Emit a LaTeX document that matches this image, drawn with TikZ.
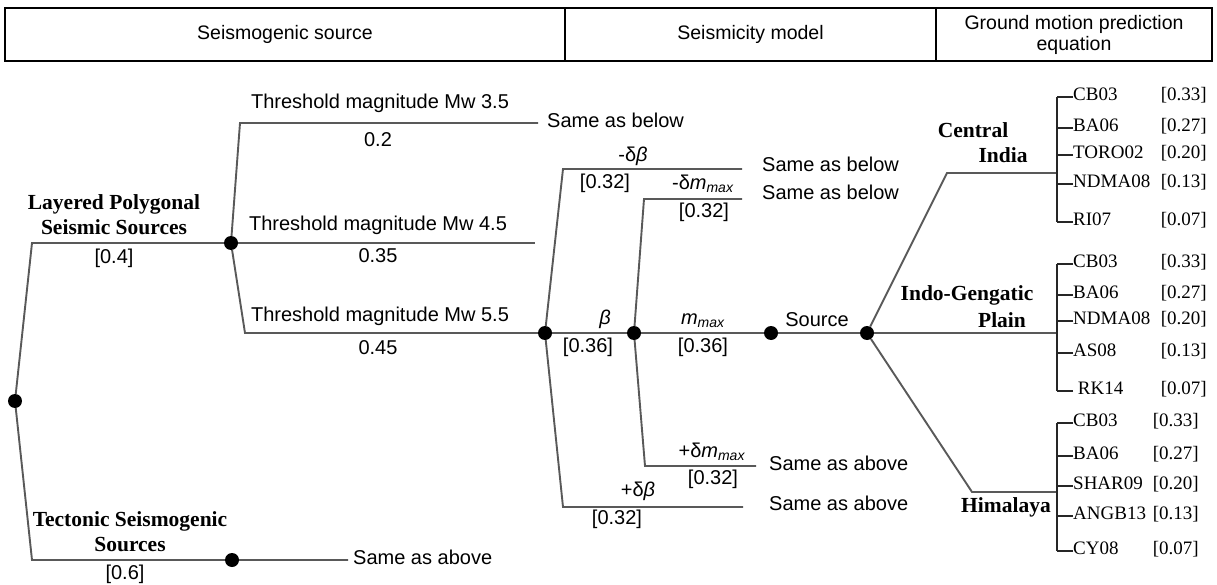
\documentclass[tikz,border=0pt]{standalone}
\usepackage{fontspec}
\setmainfont{Liberation Sans}
\newfontfamily\tnr{Liberation Serif}
\begin{document}
\begin{tikzpicture}[x=1pt, y=-1pt,
  branch/.style={draw=black!65, line width=1.9pt},
  bracket/.style={draw=black!85, line width=1.5pt},
  dot/.style={circle, fill=black, inner sep=0pt, minimum size=14pt},
  head/.style={draw, line width=1.2pt, minimum height=53pt, inner sep=0pt, font=\fontsize{19.5}{21}\selectfont},
  txt/.style={inner sep=0pt, text height=0.72em, text depth=0pt, font=\fontsize{20}{24}\selectfont},
  same/.style={txt, anchor=west},
  region/.style={inner sep=0pt, align=center, font=\fontsize{21.5}{25}\selectfont\tnr\bfseries},
  gm/.style={anchor=west, inner sep=0pt, text height=0.66em, text depth=0pt, font=\fontsize{19}{22}\selectfont\tnr},
  gmw/.style={gm, anchor=east}
]
\useasboundingbox (0,0) rectangle (1217,585);

% column headings
\node[head, minimum width=560pt] (hsrc) at (285,34.5) {Seismogenic source};
\node[head, minimum width=371pt] (hmod) at (750.5,34.5) {Seismicity model};
\node[head, minimum width=276pt, align=center] (hgmpe) at (1074,34.5) {Ground motion prediction\\equation};

% seismogenic source
\node[dot] (root) at (15,401) {};
\node[dot] (lps) at (231,243) {};
\node[dot] (tss) at (232,560) {};
\coordinate (lpsc) at (32,243);
\coordinate (tssc) at (32,560);
\coordinate (tsse) at (348,560);
\draw[branch] (root) -- (lpsc) -- (lps);
\draw[branch] (root) -- (tssc) -- (tss) -- (tsse);
\node[region] (lpstxt) at (114,215) {Layered Polygonal\\Seismic Sources};
\node[txt] (lpsw) at (114,260) {[0.4]};
\node[region] (tsstxt) at (130,532) {Tectonic Seismogenic\\Sources};
\node[txt] (tssw) at (125,576) {[0.6]};
\node[same] (tsssame) at (353,561) {Same as above};

% threshold magnitudes
\coordinate (m35c) at (240,123);
\coordinate (m35e) at (538,123);
\coordinate (m45e) at (535,243);
\coordinate (m55c) at (245,333);
\node[dot] (mdl) at (545,333) {};
\draw[branch] (lps) -- (m35c) -- (m35e);
\draw[branch] (lps) -- (m45e);
\draw[branch] (lps) -- (m55c) -- (mdl);
\node[txt] (m35) at (380,105) {Threshold magnitude Mw 3.5};
\node[txt] (m35w) at (378,143) {0.2};
\node[same] (m35same) at (547,124) {Same as below};
\node[txt] (m45) at (378,227) {Threshold magnitude Mw 4.5};
\node[txt] (m45w) at (378,259) {0.35};
\node[txt] (m55) at (380,318) {Threshold magnitude Mw 5.5};
\node[txt] (m55w) at (378,351) {0.45};

% seismicity model: b-value and mmax
\node[dot] (beta) at (634,333) {};
\node[dot] (mmax) at (771,333) {};
\node[dot] (src) at (867,333) {};
\coordinate (bmc) at (563,169);
\coordinate (bme) at (742,169);
\coordinate (bpc) at (563,507);
\coordinate (bpe) at (743,507);
\coordinate (mmc) at (644,199);
\coordinate (mme) at (742,199);
\coordinate (mpc) at (645,466);
\coordinate (mpe) at (756,466);
\draw[branch] (mdl) -- (bmc) -- (bme);
\draw[branch] (mdl) -- (bpc) -- (bpe);
\draw[branch] (mdl) -- (beta) -- (mmax) -- (src);
\draw[branch] (beta) -- (mmc) -- (mme);
\draw[branch] (beta) -- (mpc) -- (mpe);
\node[txt] (bm) at (633,158) {-δ\textit{β}};
\node[txt] (bmw) at (605,185) {[0.32]};
\node[same] (bmsame) at (762,168) {Same as below};
\node[txt] (mm) at (703,186) {-δ\textit{m}\textsubscript{\textit{max}}};
\node[txt] (mmw) at (704,214) {[0.32]};
\node[same] (mmsame) at (762,196) {Same as below};
\node[txt] (b0) at (605,321) {\textit{β}};
\node[txt] (b0w) at (588,349) {[0.36]};
\node[txt] (m0) at (703,321) {\textit{m}\textsubscript{\textit{max}}};
\node[txt] (m0w) at (703,349) {[0.36]};
\node[txt] (mp) at (712,454) {+δ\textit{m}\textsubscript{\textit{max}}};
\node[txt] (mpw) at (713,481) {[0.32]};
\node[same] (mpsame) at (769,467) {Same as above};
\node[txt] (bp) at (638,493) {+δ\textit{β}};
\node[txt] (bpw) at (617,521) {[0.32]};
\node[same] (bpsame) at (769,507) {Same as above};
\node[txt] (srctxt) at (817,323) {Source};

% ground motion prediction equations
\coordinate (cic) at (947,173);
\coordinate (cib) at (1057,173);
\coordinate (igb) at (1057,333);
\coordinate (hic) at (972,492);
\coordinate (hib) at (1057,492);
\draw[branch] (src) -- (cic) -- (cib);
\draw[branch] (src) -- (igb);
\draw[branch] (src) -- (hic) -- (hib);
\node[region] (ci1) at (973,130) {Central};
\node[region] (ci2) at (1003,155) {India};
\node[region] (ig1) at (967,295) {Indo-Gengatic};
\node[region] (ig2) at (1002,320) {Plain};
\node[region] (hi) at (1006,507) {Himalaya};

\foreach \y/\g/\w [count=\i] in {97/CB03/0.33, 128/BA06/0.27, 155/TORO02/0.20, 184/NDMA08/0.13, 222/RI07/0.07} {
  \node[gm] (cig\i) at (1073,\y) {\g};
  \node[gmw] (ciw\i) at (1207,\y) {[\w]};
  \draw[bracket] (cig\i.west) -- ++(-16,0);
}
\draw[bracket] (cig1.west) ++(-16,0) -- ([xshift=-16pt]cig5.west);

\foreach \y/\g/\w [count=\i] in {264/CB03/0.33, 295/BA06/0.27, 321/NDMA08/0.20, 353/AS08/0.13, 391/\ RK14/0.07} {
  \node[gm] (igg\i) at (1073,\y) {\g};
  \node[gmw] (igw\i) at (1207,\y) {[\w]};
  \draw[bracket] (igg\i.west) -- ++(-16,0);
}
\draw[bracket] (igg1.west) ++(-16,0) -- ([xshift=-16pt]igg5.west);

\foreach \y/\g/\w [count=\i] in {423/CB03/0.33, 456/BA06/0.27, 486/SHAR09/0.20, 516/ANGB13/0.13, 551/CY08/0.07} {
  \node[gm] (hig\i) at (1073,\y) {\g};
  \node[gmw] (hiw\i) at (1199,\y) {[\w]};
  \draw[bracket] (hig\i.west) -- ++(-16,0);
}
\draw[bracket] (hig1.west) ++(-16,0) -- ([xshift=-16pt]hig5.west);
\end{tikzpicture}
\end{document}
